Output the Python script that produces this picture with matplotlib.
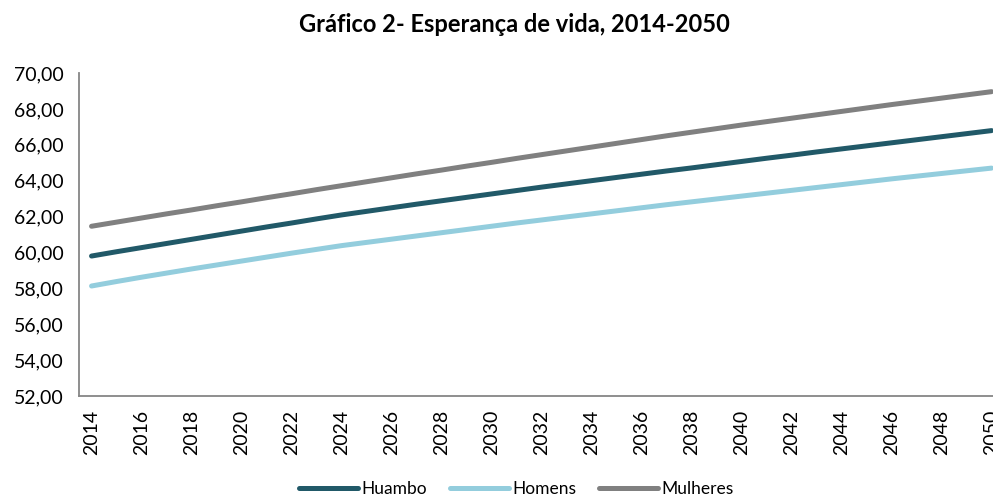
import numpy as np
import matplotlib.pyplot as plt
from matplotlib.ticker import FuncFormatter

plt.rcParams['font.family'] = ['Lato', 'DejaVu Sans']

anos = list(range(2014, 2051))

huambo = [59.80, 60.04, 60.27, 60.50, 60.73, 60.96, 61.19, 61.42, 61.64, 61.87,
          62.09, 62.29, 62.49, 62.69, 62.88, 63.07, 63.26, 63.45, 63.64, 63.82,
          64.00, 64.18, 64.36, 64.54, 64.71, 64.89, 65.07, 65.25, 65.42, 65.60,
          65.77, 65.94, 66.11, 66.28, 66.45, 66.62, 66.79]

homens = [58.13, 58.38, 58.62, 58.85, 59.08, 59.30, 59.52, 59.74, 59.96, 60.17,
          60.38, 60.56, 60.74, 60.92, 61.10, 61.28, 61.46, 61.64, 61.81, 61.98,
          62.15, 62.32, 62.49, 62.66, 62.82, 62.98, 63.14, 63.30, 63.46, 63.62,
          63.78, 63.94, 64.10, 64.25, 64.40, 64.55, 64.70]

mulheres = [61.46, 61.69, 61.92, 62.15, 62.37, 62.60, 62.82, 63.05, 63.27, 63.50,
            63.72, 63.94, 64.16, 64.38, 64.59, 64.81, 65.02, 65.24, 65.45, 65.66,
            65.87, 66.08, 66.29, 66.50, 66.70, 66.90, 67.10, 67.29, 67.48, 67.67,
            67.86, 68.05, 68.24, 68.42, 68.60, 68.78, 68.96]

fig = plt.figure(figsize=(9.93, 4.99), dpi=100)
ax = fig.add_axes([0.0796, 0.2064, 0.9315, 0.6473])

ax.plot(anos, huambo, color='#215968', lw=3.6, label='Huambo', solid_capstyle='round')
ax.plot(anos, homens, color='#93CDDD', lw=3.6, label='Homens', solid_capstyle='round')
ax.plot(anos, mulheres, color='#808080', lw=3.6, label='Mulheres', solid_capstyle='round')

ax.set_xlim(2013.5, 2050.5)
ax.set_ylim(52, 70)
ax.set_yticks(np.arange(52, 71, 2))
ax.yaxis.set_major_formatter(FuncFormatter(lambda v, p: f'{v:.2f}'.replace('.', ',')))
ax.set_xticks(anos[::2])
ax.set_xticklabels([str(a) for a in anos[::2]], rotation=90)

ax.tick_params(axis='y', length=0, pad=11, labelsize=14, colors='#000000')
ax.tick_params(axis='x', length=0, pad=10, labelsize=14)
for s in ['top', 'right']:
    ax.spines[s].set_visible(False)
for s in ['left', 'bottom']:
    ax.spines[s].set_color('#868686')
    ax.spines[s].set_linewidth(1.3)

fig.text(0.518, 0.95, 'Gráfico 2- Esperança de vida, 2014-2050', ha='center', va='center',
         fontsize=17, fontweight='bold')

fig.legend(loc='center', bbox_to_anchor=(0.52, 0.02), ncol=3, frameon=False,
           fontsize=12.5, handlelength=3.4, handletextpad=0.2, columnspacing=1.3)

fig.savefig('out.png', dpi=100)
